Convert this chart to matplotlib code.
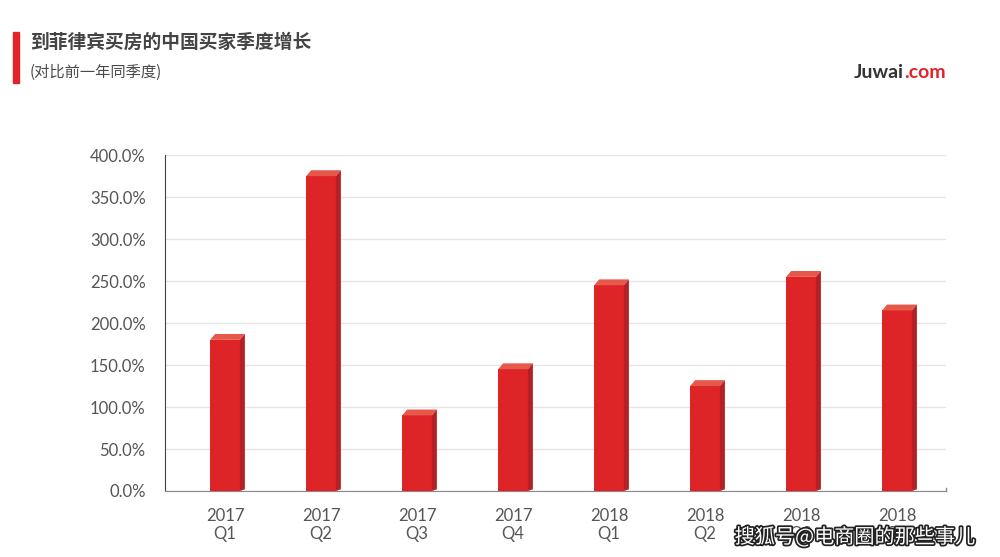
import matplotlib.pyplot as plt
from matplotlib.patches import Polygon
import matplotlib.patheffects as pe

plt.rcParams['font.family'] = ['Lato', 'Noto Sans CJK SC', 'DejaVu Sans']

years = ['2017', '2017', '2017', '2017', '2018', '2018', '2018', '2018']
quarters = ['Q1', 'Q2', 'Q3', 'Q4', 'Q1', 'Q2', 'Q3', 'Q4']
growth = [180, 375, 90, 145, 245, 125, 255, 215]
yticks = [0, 50, 100, 150, 200, 250, 300, 350, 400]

front = '#de2427'
top_c = '#e5584a'
side_c = '#b51f27'

fig = plt.figure(figsize=(10, 5.57), dpi=100)
ax = fig.add_axes([0.165, 0.1185, 0.781, 0.603])

x = list(range(len(growth)))
w = 0.31
dx = 0.052
dy = 7.0
ax.bar(x, growth, width=w, color=front, zorder=3)
for xi, v in zip(x, growth):
    l, r = xi - w / 2, xi + w / 2
    ax.add_patch(Polygon([(l, v), (r, v), (r + dx, v + dy), (l + dx, v + dy)],
                         closed=True, color=top_c, zorder=3, lw=0))
    ax.add_patch(Polygon([(r, 0), (r + dx, dy * 0.3), (r + dx, v + dy), (r, v)],
                         closed=True, color=side_c, zorder=3, lw=0))

ax.set_xlim(-0.625, 7.51)
ax.set_ylim(0, 400)
ax.set_yticks(yticks)
ax.set_yticklabels(['%.1f%%' % t for t in yticks], fontsize=12, color='#555555')
ax.set_xticks(x)
ax.set_xticklabels([y + '\n' + q for y, q in zip(years, quarters)],
                   fontsize=12, color='#555555', linespacing=1.15)
ax.tick_params(axis='y', length=0, pad=14)
ax.tick_params(axis='x', length=0, pad=12)
ax.grid(axis='y', color='#e6e6e6', lw=1, zorder=0)
for s in ['top', 'right']:
    ax.spines[s].set_visible(False)
ax.spines['left'].set_color('#444444')
ax.spines['bottom'].set_color('#888888')
ax.plot([7.51, 7.51], [0, 4], color='#888888', lw=1, clip_on=False)

# header
fig.patches.append(plt.Rectangle((0.013, 0.851), 0.006, 0.092, transform=fig.transFigure,
                                 color='#e4222a'))
fig.text(0.03, 0.924, '到菲律宾买房的中国买家季度增长', fontsize=13.5, fontweight='bold',
         color='#444444', va='center', family=['Noto Sans CJK SC', 'DejaVu Sans'])
fig.text(0.03, 0.87, '(对比前一年同季度)', fontsize=11, color='#4a4a4a', va='center',
         family=['Noto Sans CJK SC', 'DejaVu Sans'])
t1 = fig.text(0.854, 0.87, 'Juwai', fontsize=14, fontweight='bold', color='#333333',
              va='center')
fig.canvas.draw()
bb = t1.get_window_extent().transformed(fig.transFigure.inverted())
fig.text(bb.x1, 0.87, '.com', fontsize=14, fontweight='bold', color='#e4222a', va='center')

fig.text(0.975, 0.035, '搜狐号@电商圈的那些事儿', fontsize=14.5, color='white', ha='right',
         va='center', family=['Noto Sans CJK SC', 'DejaVu Sans'],
         path_effects=[pe.withStroke(linewidth=2.5, foreground='#222222')])

fig.savefig('out.png', dpi=100)
